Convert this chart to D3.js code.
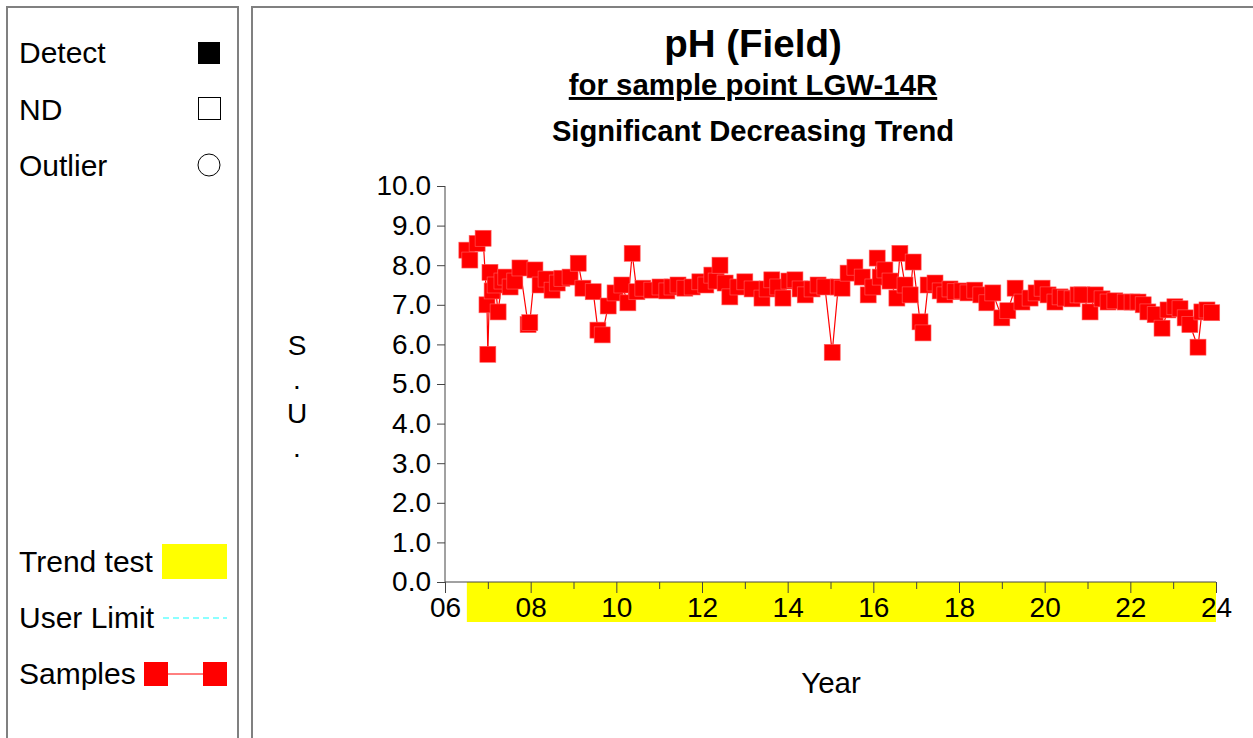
<!DOCTYPE html>
<html>
<head>
<meta charset="utf-8">
<script src="https://cdn.jsdelivr.net/npm/d3@7"></script>
<style>
  html, body { margin: 0; padding: 0; background: #fff; }
  svg { display: block; font-family: "Liberation Sans", Arial, sans-serif; }
</style>
</head>
<body>
<svg id="chart" width="1253" height="738"></svg>
<script>
// ---- Data ----
const dates = [
  2006.51, 2006.58, 2006.75, 2006.89, 2006.98, 2007.00, 2007.05, 2007.10, 2007.17, 2007.24,
  2007.33, 2007.42, 2007.52, 2007.63, 2007.75, 2007.94, 2007.98, 2008.10, 2008.22, 2008.36,
  2008.50, 2008.62, 2008.73, 2008.92, 2009.11, 2009.22, 2009.46, 2009.57, 2009.67, 2009.81,
  2009.97, 2010.13, 2010.27, 2010.37, 2010.48, 2010.62, 2010.83, 2011.02, 2011.18, 2011.30,
  2011.44, 2011.60, 2011.77, 2011.95, 2012.09, 2012.23, 2012.33, 2012.42, 2012.54, 2012.65,
  2012.84, 2013.00, 2013.17, 2013.40, 2013.52, 2013.63, 2013.77, 2013.89, 2014.03, 2014.17,
  2014.29, 2014.41, 2014.57, 2014.71, 2014.87, 2015.04, 2015.18, 2015.27, 2015.41, 2015.57,
  2015.74, 2015.88, 2015.99, 2016.09, 2016.16, 2016.27, 2016.39, 2016.55, 2016.62, 2016.74,
  2016.86, 2016.93, 2017.09, 2017.16, 2017.28, 2017.44, 2017.56, 2017.67, 2017.79, 2017.91,
  2018.07, 2018.21, 2018.37, 2018.51, 2018.65, 2018.79, 2019.00, 2019.14, 2019.31, 2019.47,
  2019.66, 2019.80, 2019.94, 2020.08, 2020.24, 2020.36, 2020.48, 2020.64, 2020.78, 2020.87,
  2021.06, 2021.18, 2021.34, 2021.48, 2021.64, 2021.88, 2022.04, 2022.18, 2022.30, 2022.41,
  2022.58, 2022.74, 2022.88, 2023.04, 2023.16, 2023.28, 2023.39, 2023.58, 2023.67, 2023.79,
  2023.90
];
const phValues = [
  8.38, 8.13, 8.55, 8.68, 7.00, 5.75, 7.82, 7.35, 7.50, 6.82,
  7.60, 7.70, 7.45, 7.60, 7.93, 6.50, 6.55, 7.88, 7.50, 7.65,
  7.37, 7.55, 7.67, 7.70, 8.05, 7.42, 7.33, 6.36, 6.24, 6.97,
  7.30, 7.50, 7.05, 8.30, 7.33, 7.42, 7.37, 7.45, 7.35, 7.45,
  7.50, 7.42, 7.45, 7.58, 7.50, 7.75, 7.60, 8.00, 7.55, 7.20,
  7.45, 7.58, 7.40, 7.17, 7.40, 7.63, 7.45, 7.17, 7.60, 7.63,
  7.40, 7.25, 7.40, 7.50, 7.45, 5.80, 7.45, 7.42, 7.80, 7.95,
  7.70, 7.25, 7.45, 8.18, 7.70, 7.88, 7.60, 7.17, 8.30, 7.50,
  7.25, 8.08, 6.57, 6.29, 7.50, 7.55, 7.35, 7.25, 7.40, 7.33,
  7.35, 7.30, 7.37, 7.25, 7.05, 7.30, 6.67, 6.85, 7.42, 7.07,
  7.17, 7.30, 7.42, 7.25, 7.07, 7.20, 7.17, 7.15, 7.25, 7.25,
  6.82, 7.25, 7.15, 7.07, 7.10, 7.07, 7.07, 7.07, 7.00, 6.82,
  6.75, 6.41, 6.87, 6.95, 6.90, 6.67, 6.50, 5.93, 6.82, 6.87,
  6.80
];
const xTickYears = [2006, 2008, 2010, 2012, 2014, 2016, 2018, 2020, 2022, 2024];
const xMinorYears = [2007, 2009, 2011, 2013, 2015, 2017, 2019, 2021, 2023];
const yTicks = [0, 1, 2, 3, 4, 5, 6, 7, 8, 9, 10];
const titleText = "pH (Field)";
const subtitleText = "for sample point LGW-14R";
const trendText = "Significant Decreasing Trend";
const yLabelChars = ["S", ".", "U", "."];
const xLabelText = "Year";
const legendTop = ["Detect", "ND", "Outlier"];
const legendBottom = ["Trend test", "User Limit", "Samples"];

// ---- Drawing ----
const svg = d3.select("#chart");
const FONT = 28;
const LEG_FONT = 30;

// panels
svg.append("rect").attr("x", 7).attr("y", 7).attr("width", 231).attr("height", 760)
  .attr("fill", "none").attr("stroke", "#808080").attr("stroke-width", 2);
svg.append("rect").attr("x", 252).attr("y", 7).attr("width", 1020).attr("height", 760)
  .attr("fill", "none").attr("stroke", "#808080").attr("stroke-width", 2);

const x = d3.scaleLinear().domain([2006, 2024]).range([445, 1216]);
const y = d3.scaleLinear().domain([0, 10]).range([582, 186]);

// trend test band
svg.append("rect")
  .attr("x", x(d3.min(dates))).attr("y", y(0))
  .attr("width", x(2024) - x(d3.min(dates))).attr("height", 40)
  .attr("fill", "#ffff00");

// titles
svg.append("text").attr("x", 753).attr("y", 57).attr("text-anchor", "middle")
  .attr("font-size", 38.5).attr("font-weight", "bold").text(titleText);
svg.append("text").attr("x", 753).attr("y", 95).attr("text-anchor", "middle")
  .attr("font-size", 29.4).attr("font-weight", "bold")
  .attr("text-decoration", "underline").text(subtitleText);
svg.append("text").attr("x", 753).attr("y", 141).attr("text-anchor", "middle")
  .attr("font-size", 29.2).attr("font-weight", "bold").text(trendText);

// y axis
const yAxis = d3.axisLeft(y).tickValues(yTicks).tickFormat(d3.format(".1f"))
  .tickSize(8).tickPadding(6);
const gy = svg.append("g").attr("transform", `translate(${x(2006)},0)`).call(yAxis);
gy.selectAll("text").attr("font-size", FONT).attr("font-family", "Liberation Sans, Arial, sans-serif").attr("fill", "#000");
gy.selectAll("line").attr("stroke", "#444");
gy.select(".domain").attr("stroke", "#444").attr("d", `M0,${y(10)}V${y(0)}`);

// x axis
const xAxis = d3.axisBottom(x).tickValues(xTickYears)
  .tickFormat(d => String(d % 100).padStart(2, "0")).tickSize(11).tickPadding(4);
const gx = svg.append("g").attr("transform", `translate(0,${y(0)})`).call(xAxis);
gx.selectAll("text").attr("font-size", FONT).attr("font-family", "Liberation Sans, Arial, sans-serif").attr("fill", "#000");
gx.selectAll("line").attr("stroke", "#444");
gx.select(".domain").attr("stroke", "#444").attr("d", `M${x(2006)},0H${x(2024)}`);
const gxm = svg.append("g").attr("transform", `translate(0,${y(0)})`)
  .call(d3.axisBottom(x).tickValues(xMinorYears).tickFormat("").tickSize(7));
gxm.select(".domain").remove();
gxm.selectAll("line").attr("stroke", "#444");

// axis labels
svg.append("g").selectAll("text").data(yLabelChars).join("text")
  .attr("x", 297).attr("y", (d, i) => 355 + i * 34).attr("text-anchor", "middle")
  .attr("font-size", FONT).text(d => d);
svg.append("text").attr("x", 831).attr("y", 693).attr("text-anchor", "middle")
  .attr("font-size", 29.5).text(xLabelText);

// samples line + markers
const pts = dates.map((d, i) => ({ t: d, v: phValues[i] }));
svg.append("path").datum(pts)
  .attr("fill", "none").attr("stroke", "#ff0000").attr("stroke-width", 1.2)
  .attr("d", d3.line().x(d => x(d.t)).y(d => y(d.v)));
const S = 16;
svg.append("g").selectAll("rect").data(pts).join("rect")
  .attr("x", d => x(d.t) - S / 2).attr("y", d => y(d.v) - S / 2)
  .attr("width", S).attr("height", S)
  .attr("fill", "#ff0000").attr("stroke", "#ff6060").attr("stroke-width", 0.6);

// legend (top)
const topY = [63, 120, 176];
svg.append("g").selectAll("text").data(legendTop).join("text")
  .attr("x", 19).attr("y", (d, i) => topY[i]).attr("font-size", LEG_FONT).text(d => d);
svg.append("rect").attr("x", 198).attr("y", 42).attr("width", 22).attr("height", 22).attr("fill", "#000");
svg.append("rect").attr("x", 198.5).attr("y", 97.5).attr("width", 22).attr("height", 22)
  .attr("fill", "#fff").attr("stroke", "#000").attr("stroke-width", 1);
svg.append("circle").attr("cx", 209).attr("cy", 165).attr("r", 11)
  .attr("fill", "#fff").attr("stroke", "#000").attr("stroke-width", 1);

// legend (bottom)
const botY = [572, 628, 684];
svg.append("g").selectAll("text").data(legendBottom).join("text")
  .attr("x", 19).attr("y", (d, i) => botY[i]).attr("font-size", LEG_FONT).text(d => d);
svg.append("rect").attr("x", 162).attr("y", 544).attr("width", 65).attr("height", 35).attr("fill", "#ffff00");
svg.append("line").attr("x1", 163).attr("x2", 227).attr("y1", 618).attr("y2", 618)
  .attr("stroke", "#66ffff").attr("stroke-width", 1.5).attr("stroke-dasharray", "6,4");
svg.append("line").attr("x1", 156).attr("x2", 215).attr("y1", 674).attr("y2", 674)
  .attr("stroke", "#ff0000").attr("stroke-width", 1);
svg.append("rect").attr("x", 144).attr("y", 662).attr("width", 24).attr("height", 24).attr("fill", "#ff0000");
svg.append("rect").attr("x", 203).attr("y", 662).attr("width", 24).attr("height", 24).attr("fill", "#ff0000");
</script>
</body>
</html>
